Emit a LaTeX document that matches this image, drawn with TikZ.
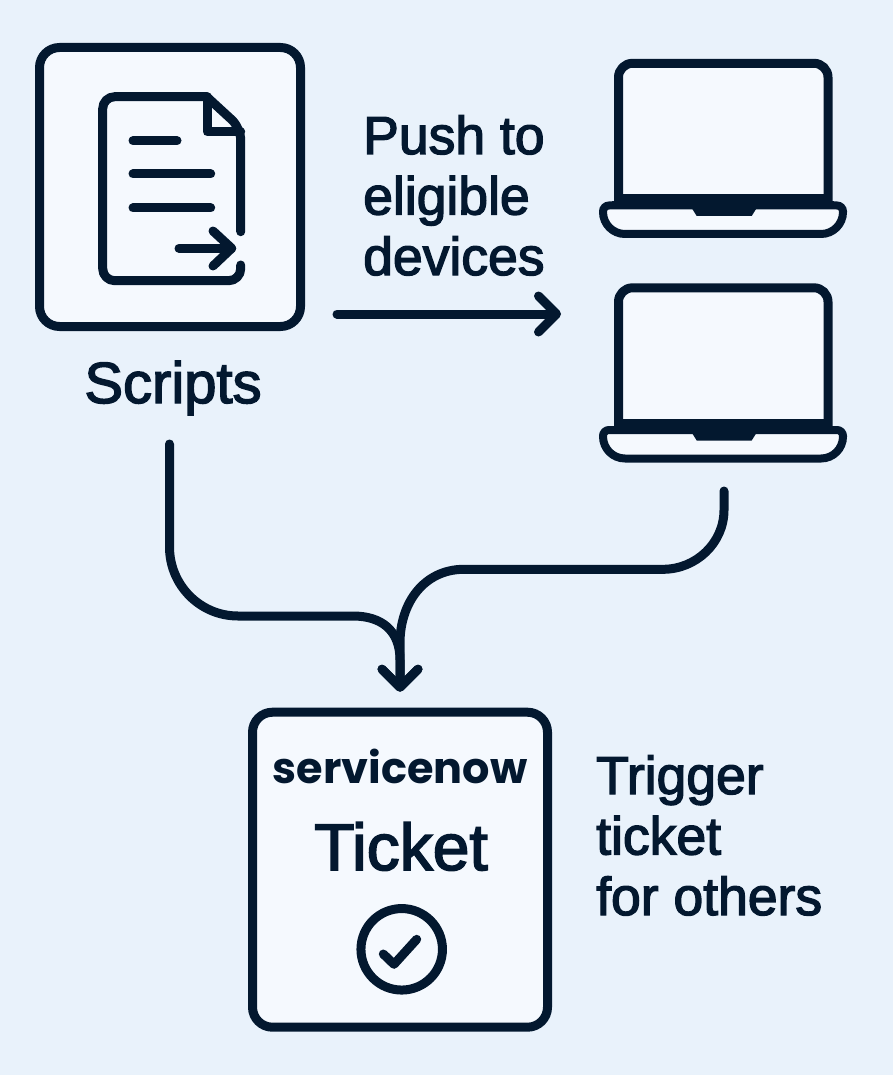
\documentclass[tikz,border=0pt]{standalone}
\usepackage{fontspec}
\setmainfont{Liberation Sans}[FakeBold=2.5]
\newfontfamily\snowfont{Poppins}
\usetikzlibrary{arrows.meta}
\definecolor{bg}{HTML}{E9F2FB}
\definecolor{pane}{HTML}{F5F9FE}
\definecolor{ink}{HTML}{03182F}
\tikzset{
	ink line/.style={draw=ink, line width=9pt, line cap=round, line join=round},
	card/.style={ink line, fill=pane, rounded corners=20pt},
	flow/.style={ink line, -{Straight Barb[length=18pt, width=36pt, round]}},
	caption/.style={text=ink, inner sep=0pt, font=\fontsize{53.5}{60.5}\selectfont, align=left}
}
\begin{document}
\begin{tikzpicture}[x=1pt, y=-1pt]
	\useasboundingbox (0, 0) rectangle (893, 1075);
	\fill[bg] (0, 0) rectangle (893, 1075);

	% scripts card and its page
	\node[card, minimum width=261pt, minimum height=279pt] (scripts) at (170, 187) {};
	\draw[ink line, rounded corners=12pt] (240.7, 231.7) -- (240.7, 128) [sharp corners] -- (206.7, 96.7) [rounded corners=12pt] -- (102.7, 96.7) -- (102.7, 280.7) -- (240.7, 280.7) [sharp corners] -- (240.7, 265);
	\draw[ink line] (207.3, 96.7) -- (207.3, 132) -- (240.7, 132);
	\draw[ink line] (133, 140.7) -- (177, 140.7);
	\draw[ink line] (133, 174) -- (210.7, 174);
	\draw[ink line] (133, 208) -- (210.7, 208);
	\draw[ink line] (179, 248.3) -- (231.7, 248.3);
	\draw[ink line] (213, 231) -- (231.7, 248.3) -- (213, 266);
	\node[caption, anchor=base, font=\fontsize{58}{60}\selectfont] (scriptslabel) at (173, 403) {Scripts};

	% both laptops
	\foreach \dy/\name in {0/lapone, 224.5/laptwo} {
		\begin{scope}[yshift=-\dy pt]
			\draw[ink line, fill=pane, rounded corners=14pt] (618.5, 205) -- (618.5, 63.3) -- (828, 63.3) -- (828, 205);
			\fill[ink] (614.5, 194.3) rectangle (832, 209);
			\draw[draw=ink, line width=8pt, fill=pane, rounded corners=6pt] (723, 205.5) -- (843, 205.5) [rounded corners=22pt] -- (843, 234) -- (603, 234) [rounded corners=6pt] -- (603, 205.5) -- cycle;
			\fill[ink] (612, 201) rectangle (834, 209);
			\fill[ink] (691.7, 208) -- (696.7, 216) -- (751.7, 216) -- (756.7, 208) -- cycle;
			\coordinate (\name) at (723, 238);
		\end{scope}
	}

	% ticket card
	\node[card, minimum width=295pt, minimum height=315pt] (ticket) at (400, 869.7) {};
	\node[text=ink, inner sep=0pt, anchor=base, font=\fontsize{43}{50}\snowfont\bfseries] (snow) at (400, 783) {servicenow};
	\node[text=ink, inner sep=0pt, anchor=base, font=\fontsize{66}{70}\selectfont] (ticketname) at (401, 870) {Ticket};
	\node[circle, ink line, inner sep=0pt, minimum size=81.5pt] (okmark) at (401.7, 949.3) {};
	\draw[ink line] (383.3, 954) -- (394, 964.3) -- (416.7, 939.3);

	% free ends of the connectors
	\coordinate (pushstart) at (337, 314);
	\coordinate (pushend) at (561, 314);
	\coordinate (scriptsout) at (169.5, 444);
	\coordinate (laptwoout) at (724, 491);

	\draw[flow] (pushstart) -- (pushend);
	\draw[flow, shorten >=16pt] (scriptsout) -- +(0, 103) .. controls +(0, 38) and +(-38, 0) .. (238, 616) -- (353, 616) .. controls +(28, 0) and +(0, -30) .. (400, 660) -- (ticket.north);
	\draw[flow, shorten >=16pt] (laptwoout) -- +(0, 19) .. controls +(0, 33) and +(33, 0) .. (663, 569.3) -- (464, 569.3) .. controls +(-40, 0) and +(0, -40) .. (400, 643) -- (ticket.north);

	\node[caption, anchor=base west] (pushlabel) at (363, 275) {Push to\\eligible\\devices};
	\node[caption, anchor=base west] (triggerlabel) at (596, 915) {Trigger\\ticket\\for others};
\end{tikzpicture}
\end{document}
